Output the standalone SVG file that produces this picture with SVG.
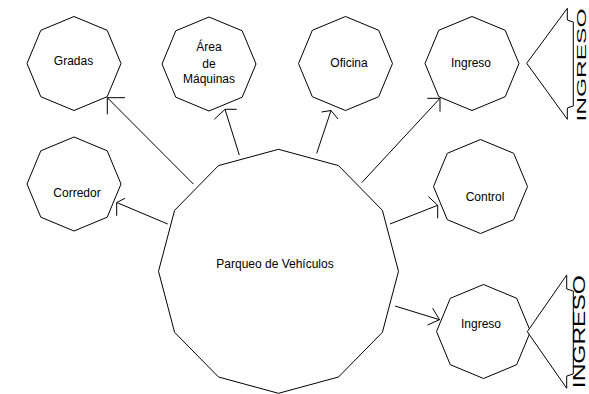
<svg xmlns="http://www.w3.org/2000/svg" xmlns:xlink="http://www.w3.org/1999/xlink" width="589" height="394" viewBox="0 0 589 394">
<style>
.shape{fill:#fff;stroke:#000;stroke-width:1}
.ln{fill:none;stroke:#000;stroke-width:1}
.lbl{font-family:"Liberation Sans",Arial,sans-serif;font-size:12px;fill:#000;text-anchor:middle}
.big{font-family:"Liberation Sans",Arial,sans-serif;fill:#000;text-anchor:middle}
</style>
<defs>
<polygon id="oct" points="0,-47 33.2,-33.2 47,0 33.2,33.2 0,47 -33.2,33.2 -47,0 -33.2,-33.2"/>
</defs>
<rect width="589" height="394" fill="#fff"/>
<g id="parqueo">
<polygon class="shape" points="278.5,149.3 338.5,165.6 382.4,210.3 398.5,271.3 382.4,332.3 338.5,377 278.5,393.3 218.5,377 174.6,332.3 158.5,271.3 174.6,210.3 218.5,165.6"/>
<text class="lbl" x="275" y="268">Parqueo de Vehículos</text>
</g>
<g id="gradas">
<use xlink:href="#oct" href="#oct" class="shape" transform="translate(74,63.5)"/>
<text class="lbl" x="73.5" y="65">Gradas</text>
</g>
<g id="area">
<use xlink:href="#oct" href="#oct" class="shape" transform="translate(209,64)"/>
<text class="lbl" x="209" y="51">Área</text>
<text class="lbl" x="209" y="67.5">de</text>
<text class="lbl" x="209" y="83">Máquinas</text>
</g>
<g id="oficina">
<use xlink:href="#oct" href="#oct" class="shape" transform="translate(345.5,63.5)"/>
<text class="lbl" x="349" y="66.5">Oficina</text>
</g>
<g id="ingreso1">
<use xlink:href="#oct" href="#oct" class="shape" transform="translate(472,63.5)"/>
<text class="lbl" x="471" y="66.5">Ingreso</text>
</g>
<g id="corredor">
<use xlink:href="#oct" href="#oct" class="shape" transform="translate(74,184)"/>
<text class="lbl" x="77" y="197">Corredor</text>
</g>
<g id="control">
<use xlink:href="#oct" href="#oct" class="shape" transform="translate(480.5,186.5)"/>
<text class="lbl" x="485" y="201">Control</text>
</g>
<g id="ingreso2">
<use xlink:href="#oct" href="#oct" class="shape" transform="translate(483.5,331.5)"/>
<text class="lbl" x="481" y="328">Ingreso</text>
</g>
<g id="ingreso1-tag">
<path class="shape" d="M526.7,63.3 L567.3,8.3 L567.3,20 L573.3,22 L573.3,106 L567.3,108 L567.3,119.3 Z"/>
<text class="big" font-size="13" textLength="113" lengthAdjust="spacingAndGlyphs" transform="translate(585.8,65) rotate(-90)">INGRESO</text>
</g>
<g id="ingreso2-tag">
<path class="shape" d="M527.3,331.7 L566.7,275 L566.7,289 L573.3,291 L573.3,374 L566.7,376 L566.7,388.3 Z"/>
<text class="big" font-size="16" textLength="113" lengthAdjust="spacingAndGlyphs" transform="translate(585.3,331.7) rotate(-90)">INGRESO</text>
</g>
<g id="connectors">
<path class="ln" d="M193.3,184 L107.3,97.7 M125,97.7 L107.3,97.7 L107.3,114.3"/>
<path class="ln" d="M239.3,155 L225,109.3 M236.7,109.3 L225,109.3 L214.3,119.3"/>
<path class="ln" d="M316.7,153.3 L331,110.5 M321.5,112 L331,110.5 L338,119"/>
<path class="ln" d="M361.7,182.7 L440,98.3 M427.3,98.3 L440,98.3 L440,111.7"/>
<path class="ln" d="M167.7,224 L116.7,202.5 M125,198.3 L116.7,202.5 L116.7,215.7"/>
<path class="ln" d="M390,224 L437.7,205.3 M428.3,196.5 L437.7,205.3 L437.7,218.3"/>
<path class="ln" d="M395,306 L439.5,319.7 M432.7,308.3 L439.5,319.7 L427.5,325"/>
</g>
</svg>
